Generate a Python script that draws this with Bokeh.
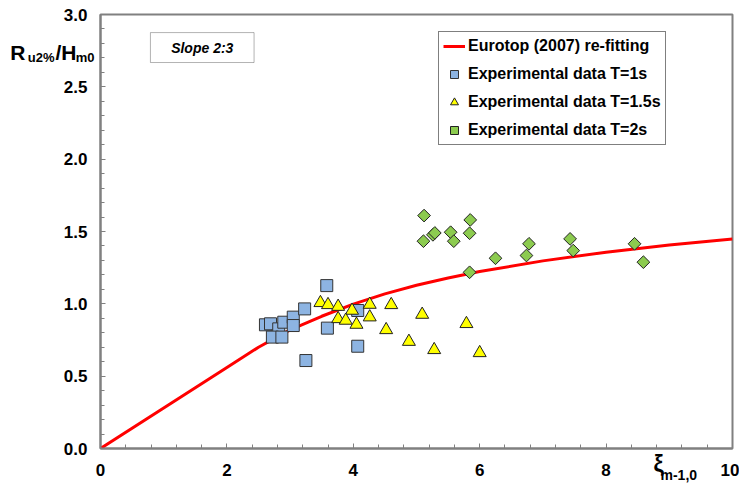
from bokeh.plotting import figure
from bokeh.models import (Range1d, SingleIntervalTicker, FixedTicker, NumeralTickFormatter, Label,
                          LinearAxis, BoxAnnotation, Legend, LegendItem)
from bokeh.embed import file_html
from bokeh.resources import INLINE

# Eurotop (2007) re-fitting curve
curve_x = [0, 1, 2, 2.5, 3, 3.5, 4, 4.5, 5, 5.5, 6, 7, 8, 9, 10]
curve_y = [0, 0.28, 0.56, 0.70, 0.82, 0.914, 0.998, 1.069, 1.128, 1.178, 1.223, 1.297, 1.357, 1.406, 1.448]

# Experimental data T=1s
t1_x = [2.61, 2.69, 2.82, 2.90, 3.05, 3.05, 2.72, 2.87, 3.23, 3.58, 3.59, 4.07, 3.25, 4.07]
t1_y = [0.855, 0.862, 0.827, 0.873, 0.908, 0.850, 0.770, 0.770, 0.965, 1.126, 0.832, 0.707, 0.608, 0.954]

# Experimental data T=1.5s
t15_x = [3.48, 3.60, 3.76, 3.98, 4.26, 4.60, 3.76, 3.88, 4.05, 4.26, 4.52, 4.88, 5.09, 5.28, 5.79, 6.00]
t15_y = [1.007, 0.993, 0.981, 0.954, 0.995, 0.993, 0.896, 0.885, 0.857, 0.908, 0.820, 0.739, 0.926, 0.682, 0.862, 0.661]

# Experimental data T=2s
t2_x = [5.12, 5.11, 5.26, 5.29, 5.54, 5.59, 5.85, 5.84, 5.84, 6.25, 6.78, 6.74, 7.43, 7.48, 8.45, 8.59]
t2_y = [1.610, 1.433, 1.477, 1.490, 1.495, 1.433, 1.580, 1.488, 1.218, 1.315, 1.415, 1.334, 1.449, 1.368, 1.415, 1.288]

legend_labels = ["Eurotop (2007) re-fitting", "Experimental data T=1s",
                 "Experimental data T=1.5s", "Experimental data T=2s"]
slope_text = "Slope 2:3"

# axis titles, split into main text and subscripts
y_title_parts = ["R", "u2%", "/H", "m0"]
x_title_parts = ["ξ", "m-1,0"]

FONT = "Liberation Sans"

p = figure(width=739, height=485, output_backend="svg", toolbar_location=None,
           x_range=Range1d(0, 10), y_range=Range1d(0, 3),
           min_border_left=100, min_border_right=7, min_border_top=14, min_border_bottom=37)

p.background_fill_color = "white"
p.border_fill_color = "white"
p.outline_line_color = "#808080"
p.outline_line_width = 2
p.grid.visible = False

for ax in (p.xaxis[0], p.yaxis[0]):
    ax.axis_line_color = "#808080"
    ax.axis_line_width = 2
    ax.major_tick_line_color = "#808080"
    ax.minor_tick_line_color = "#808080"
    ax.major_tick_in = 5
    ax.major_tick_out = 0
    ax.minor_tick_in = 4
    ax.minor_tick_out = 0
    ax.major_label_text_font = FONT
    ax.major_label_text_font_style = "bold"
    ax.major_label_text_font_size = "17px"
    ax.major_label_text_color = "black"

p.xaxis[0].ticker = SingleIntervalTicker(interval=2, num_minor_ticks=5)
p.yaxis[0].ticker = SingleIntervalTicker(interval=0.5, num_minor_ticks=5)
p.yaxis[0].formatter = NumeralTickFormatter(format="0.0")
p.xaxis[0].major_label_standoff = 15
p.yaxis[0].major_label_standoff = 13


def title_axis(side, pos, text, size, standoff):
    ax = LinearAxis(ticker=FixedTicker(ticks=[pos]), major_label_overrides={pos: text},
                    axis_line_color=None, major_tick_line_color=None, minor_tick_line_color=None,
                    major_tick_in=0, major_tick_out=0, minor_tick_in=0, minor_tick_out=0,
                    major_label_standoff=standoff, major_label_text_font=FONT,
                    major_label_text_font_style="bold", major_label_text_font_size=size,
                    major_label_text_color="black")
    p.add_layout(ax, side)


# y title pieces (stacked outward from the main y axis)
title_axis("left", 2.735, y_title_parts[0], "21px", 35)
title_axis("left", 2.705, y_title_parts[1], "13px", -47)
title_axis("left", 2.735, y_title_parts[2], "21px", -69)
title_axis("left", 2.705, y_title_parts[3], "13px", -87)

# x title pieces (stacked below the main x axis)
title_axis("below", 8.83, x_title_parts[0], "23px", -28)
title_axis("below", 9.15, x_title_parts[1], "14px", -13)

r_line = p.line(curve_x, curve_y, line_color="#FF0000", line_width=3)
r_t1 = p.scatter(t1_x, t1_y, marker="square", size=12, fill_color="#8DB4E2",
                 line_color="#333333", line_width=1)
r_t15 = p.scatter(t15_x, t15_y, marker="triangle", size=13, fill_color="#FFFF00",
                  line_color="#222222", line_width=1)
r_t2 = p.scatter(t2_x, t2_y, marker="square", size=9, angle=0.785398, fill_color="#8CCB4F",
                 line_color="#222222", line_width=1)

legend = Legend(items=[LegendItem(label=legend_labels[0], renderers=[r_line]),
                       LegendItem(label=legend_labels[1], renderers=[r_t1]),
                       LegendItem(label=legend_labels[2], renderers=[r_t15]),
                       LegendItem(label=legend_labels[3], renderers=[r_t2])],
                location=(338, 303), margin=0, padding=4, spacing=8,
                label_height=20, glyph_height=20, glyph_width=22, label_standoff=3,
                label_text_font=FONT, label_text_font_style="bold",
                label_text_font_size="16px", label_text_color="black",
                border_line_color="black", border_line_width=1,
                background_fill_color="white", background_fill_alpha=1)
p.add_layout(legend, "center")

# Slope box
box = BoxAnnotation(left=0.79, right=2.43, bottom=2.668, top=2.875,
                    fill_color="white", fill_alpha=1, line_color="black", line_width=1)
p.add_layout(box)
p.add_layout(Label(x=1.61, y=2.771, text=slope_text, text_align="center",
                   text_baseline="middle", text_font=FONT, text_font_style="bold italic",
                   text_font_size="14px", text_color="black"))

open("out.html", "w").write(file_html(p, INLINE))
